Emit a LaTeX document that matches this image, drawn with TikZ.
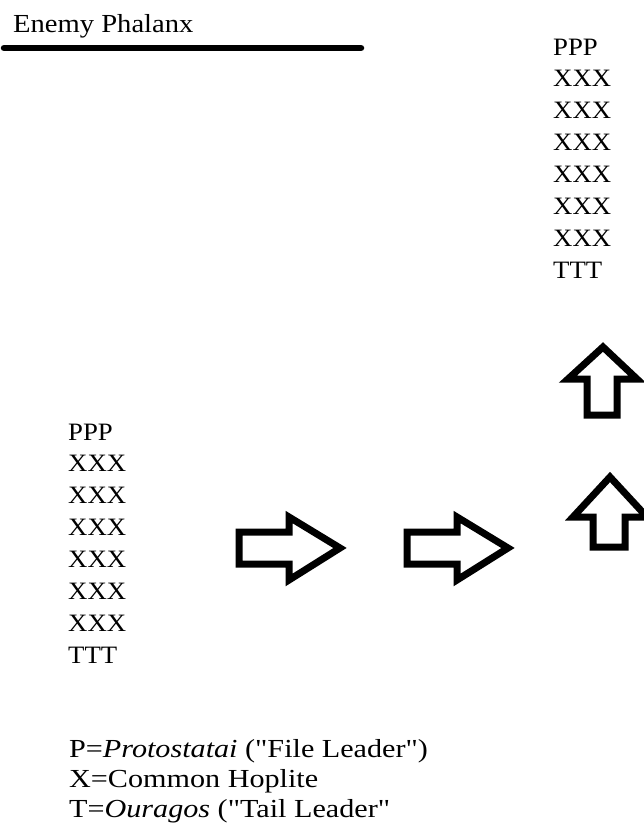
\documentclass[tikz,border=0pt]{standalone}
\usepackage{fontspec}
\setmainfont{Liberation Serif}
\newfontfamily\colfont[FakeStretch=1.07]{Liberation Serif}
\newfontfamily\headfont[FakeStretch=1.1]{Liberation Serif}
\newfontfamily\legfont[FakeStretch=1.16]{Liberation Serif}
\newcommand{\sq}{{\char34}}
\tikzset{
  rowtext/.style={anchor=base west, inner sep=0pt, font=\colfont\fontsize{25}{30}\selectfont},
  headtext/.style={anchor=base west, inner sep=0pt, font=\headfont\fontsize{26}{30}\selectfont},
  legtext/.style={anchor=base west, inner sep=0pt, font=\legfont\fontsize{26}{30}\selectfont},
  bigarrow/.style={draw=black, line width=7pt, line join=miter, fill=white},
}
\begin{document}
\begin{tikzpicture}[x=1pt, y=-1pt]
  \useasboundingbox (0,0) rectangle (644,833);
  \fill[white] (0,0) rectangle (644,833);
  \begin{scope}
    \clip (0,0) rectangle (644,833);

    % enemy line
    \node[headtext] (enemy) at (13,32) {Enemy Phalanx};
    \coordinate (lineL) at (4,48);
    \coordinate (lineR) at (361,48);
    \draw[line width=6.5pt, line cap=round] (lineL) -- (lineR);

    % advanced phalanx (right column)
    \node[rowtext] (r0) at (553,55) {PPP};
    \foreach \i in {1,...,6} {
      \node[rowtext] (r\i) at (553,{55+31.86*\i}) {XXX};
    }
    \node[rowtext] (r7) at (553,278) {TTT};

    % starting phalanx (left column)
    \node[rowtext] (l0) at (68,440) {PPP};
    \foreach \i in {1,...,6} {
      \node[rowtext] (l\i) at (68,{440+31.86*\i}) {XXX};
    }
    \node[rowtext] (l7) at (68,663) {TTT};

    % right-pointing block arrows
    \foreach \dx in {0,168} {
      \begin{scope}[xshift=\dx]
        \draw[bigarrow] (239,532) -- (289,532) -- (289,517) -- (340,548)
          -- (289,580) -- (289,564) -- (239,564) -- cycle;
      \end{scope}
    }

    % upward block arrows
    \draw[bigarrow] (587,415) -- (587,379) -- (568,379) -- (603,347)
      -- (637,379) -- (617,379) -- (617,415) -- cycle;
    \draw[bigarrow] (593,547) -- (593,517) -- (573,517) -- (610,477)
      -- (647,517) -- (625,517) -- (625,547) -- cycle;

    % legend
    \node[legtext] (k1) at (69,757) {P=\textit{Protostatai} (\sq File Leader\sq)};
    \node[legtext] (k2) at (69,787) {X=Common Hoplite};
    \node[legtext] (k3) at (69,817) {T=\textit{Ouragos} (\sq Tail Leader\sq};
  \end{scope}
\end{tikzpicture}
\end{document}
